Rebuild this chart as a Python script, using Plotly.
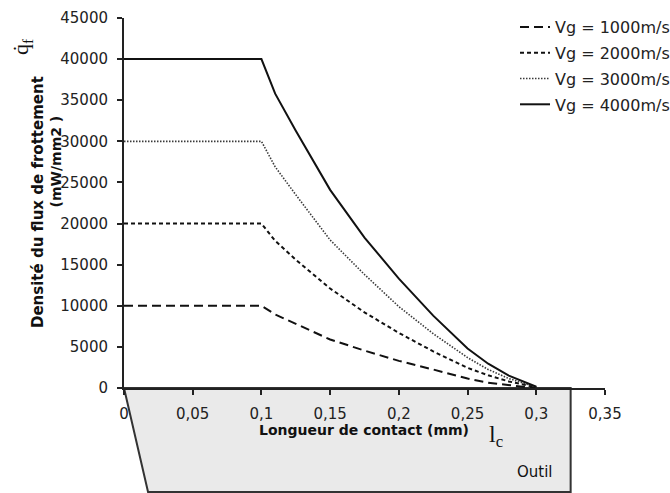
import plotly.graph_objects as go

# ---- data ----
contact_length = [0, 0.1, 0.11, 0.125, 0.15, 0.175, 0.2, 0.225, 0.25, 0.265, 0.28, 0.29, 0.3]
flux_vg1000 = [10000, 10000, 8950, 7800, 5900, 4550, 3300, 2250, 1150, 650, 320, 160, 30]
flux_vg2000 = [20000, 20000, 17900, 15600, 12100, 9200, 6700, 4450, 2450, 1550, 800, 420, 80]
flux_vg3000 = [30000, 30000, 26900, 23500, 18000, 13800, 9900, 6600, 3700, 2250, 1150, 600, 120]
flux_vg4000 = [40000, 40000, 35800, 31300, 24100, 18300, 13300, 8800, 4800, 2950, 1500, 800, 150]

series_names = ["Vg = 1000m/s", "Vg = 2000m/s", "Vg = 3000m/s", "Vg = 4000m/s"]

x_tickvals = [0, 0.05, 0.1, 0.15, 0.2, 0.25, 0.3, 0.35]
x_ticktext = ["0", "0,05", "0,1", "0,15", "0,2", "0,25", "0,3", "0,35"]
y_tickvals = [0, 5000, 10000, 15000, 20000, 25000, 30000, 35000, 40000, 45000]
y_ticktext = [str(v) for v in y_tickvals]

X_MAX = 0.35
Y_MAX = 45000
TOOL_RIGHT = 0.325   # x of the tool's right edge (data units)
TOOL_BL = 0.0175     # x of the tool's bottom-left corner (data units)

FONT = "DejaVu Sans"
INK = "#111111"

styles = [
    dict(color=INK, width=2, dash="9px,5px"),
    dict(color=INK, width=2, dash="4px,3px"),
    dict(color="#3a3a3a", width=1.6, dash="1.5px,1.5px"),
    dict(color=INK, width=2, dash="solid"),
]

fig = go.Figure()
for i, (name, ys) in enumerate(zip(series_names, [flux_vg1000, flux_vg2000, flux_vg3000, flux_vg4000])):
    fig.add_trace(go.Scatter(
        x=contact_length, y=ys, mode="lines", name=name,
        line=styles[i], legendgroup=f"g{i}",
    ))

W, H = 670, 493
ML, MR, MT, MB = 124, 65, 18, 105
plot_w = W - ML - MR
plot_h = H - MT - MB

def px_x(px):
    return (px - ML) / plot_w

def px_y(py):
    return (H - MB - py) / plot_h

# tool polygon (decoration below the axis), paper coordinates
y_bottom = px_y(492)
xr = TOOL_RIGHT / X_MAX
xbl = TOOL_BL / X_MAX
fig.add_shape(
    type="path", xref="paper", yref="paper",
    path=f"M 0 0 L {xr} 0 L {xr} {y_bottom} L {xbl} {y_bottom} Z",
    fillcolor="#eaeaea", line=dict(color="#333333", width=2), layer="below",
)

annos = [
    dict(text="<b>Densité du flux de frottement</b>", x=px_x(38), y=px_y(202),
         textangle=-90, font=dict(family=FONT, size=15, color=INK)),
    dict(text="<b>(mW/mm2 )</b>", x=px_x(55.5), y=px_y(162),
         textangle=-90, font=dict(family=FONT, size=14, color=INK)),
    dict(text="q\u0307<sub>f</sub>", x=px_x(22), y=px_y(47),
         textangle=-90, font=dict(family="Liberation Serif", size=22, color=INK)),
    dict(text="<b>Longueur de contact (mm)</b>", x=px_x(364), y=px_y(430),
         font=dict(family=FONT, size=14, color=INK)),
    dict(text="l<sub>c</sub>", x=px_x(496), y=px_y(436),
         font=dict(family="Liberation Serif", size=24, color=INK)),
    dict(text="Outil", x=px_x(535), y=px_y(472),
         font=dict(family=FONT, size=15, color=INK)),
]
for a in annos:
    fig.add_annotation(xref="paper", yref="paper", showarrow=False,
                       xanchor="center", yanchor="middle", **a)

fig.update_layout(
    width=W, height=H,
    margin=dict(l=ML, r=MR, t=MT, b=MB, autoexpand=False),
    paper_bgcolor="white", plot_bgcolor="white",
    font=dict(family=FONT, size=15, color="#222222"),
    showlegend=True,
    legend=dict(
        x=px_x(515), y=px_y(10), xanchor="left", yanchor="top",
        bgcolor="rgba(0,0,0,0)", tracegroupgap=2,
        font=dict(family=FONT, size=16, color="#222222"),
        traceorder="grouped",
    ),
)
fig.update_xaxes(
    range=[0, X_MAX], tickvals=x_tickvals, ticktext=x_ticktext,
    showline=True, linecolor="#222222", linewidth=2,
    ticks="outside", ticklen=5, tickwidth=1.5, tickcolor="#222222",
    showgrid=False, zeroline=False, ticklabelstandoff=6,
)
fig.update_yaxes(
    range=[0, Y_MAX], tickvals=y_tickvals, ticktext=y_ticktext,
    showline=True, linecolor="#222222", linewidth=2,
    ticks="outside", ticklen=5, tickwidth=1.5, tickcolor="#222222",
    showgrid=False, zeroline=False, ticklabelstandoff=6,
)

fig.write_html(
    "out.html",
    config={"displayModeBar": False},
    post_script="document.body.style.margin='0';document.body.style.overflow='hidden';",
)
